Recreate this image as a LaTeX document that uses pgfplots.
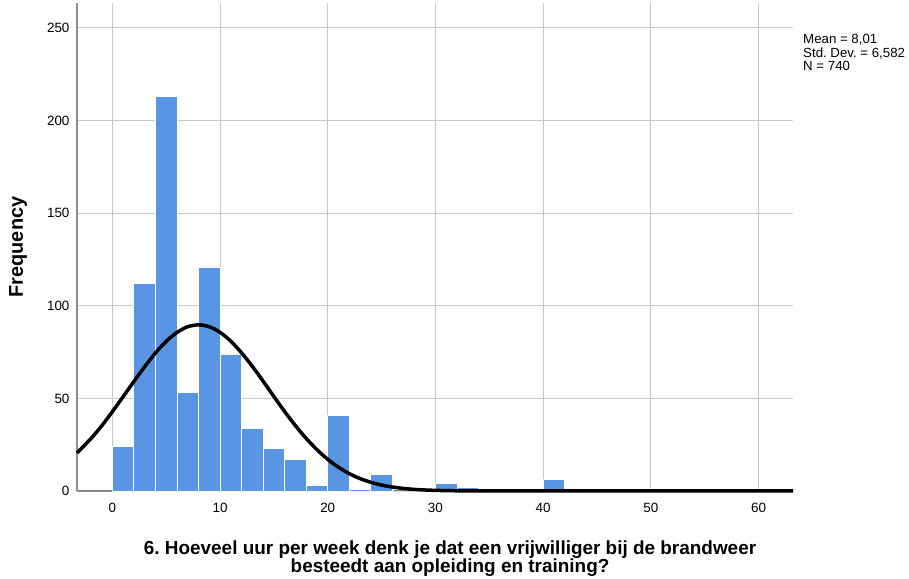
\documentclass[border=0pt]{standalone}
\usepackage{pgfplots}
\pgfplotsset{compat=1.18}
\usepackage{fontspec}
\setmainfont{Liberation Sans}
\frenchspacing
\definecolor{barblue}{RGB}{88,150,228}
\definecolor{gridgray}{RGB}{200,200,200}
\definecolor{axgray}{RGB}{140,140,140}
\begin{document}
\begin{tikzpicture}[x=1bp,y=1bp]
\path[use as bounding box] (-77,-88) rectangle (832,491);
\begin{axis}[
    at={(0,0)}, anchor=south west,
    scale only axis,
    width=716bp, height=488bp,
    xmin=-3.28, xmax=63.2,
    ymin=0, ymax=263.5,
    axis x line=bottom, axis y line=left,
    axis line style={-, draw=axgray, line width=1.2bp},
    xtick={0,10,...,60},
    ytick={0,50,...,250},
    major tick length=0pt,
    grid=major,
    major grid style={draw=gridgray, line width=1bp},
    tick label style={font=\fontsize{13.5}{16}\selectfont},
    /pgf/number format/assume math mode=true,
    xticklabel style={yshift=-9bp},
    yticklabel style={xshift=-4bp},
    xlabel={6. Hoeveel uur per week denk je dat een vrijwilliger bij de brandweer\\besteedt aan opleiding en training?},
    xlabel style={font=\fontsize{19}{18.5}\selectfont\bfseries, align=center,
        at={(rel axis cs:0.521,0)}, anchor=north, yshift=-46bp},
    ylabel={Frequency},
    ylabel style={font=\fontsize{20}{22}\selectfont\bfseries,
        at={(axis description cs:-0.0824,0.5)}, anchor=center},
    clip=false,
]
\addplot[ybar interval, fill=barblue, draw=white, line width=0.8bp] coordinates {
    (0,24) (2,112) (4,213) (6,53) (8,121) (10,74) (12,34) (14,23)
    (16,17) (18,3) (20,41) (22,1) (24,9) (26,0) (28,0) (30,4)
    (32,2) (34,0) (36,0) (38,0) (40,6) (42,6)
};
\addplot[black, line width=3.5bp, smooth] coordinates {
    (-3.28,20.6) (-2,28.2) (-1,35.1) (0,42.8) (1,50.9) (2,59.1) (3,67.1)
    (4,74.5) (5,80.8) (6,85.6) (7,88.7) (8,89.7) (9,88.7) (10,85.7)
    (11,80.9) (12,74.6) (13,67.3) (14,59.3) (15,51.0) (16,42.9) (17,35.3)
    (18,28.4) (19,22.3) (20,17.1) (21,12.8) (22,9.37) (23,6.71) (24,4.69)
    (25,3.21) (26,2.14) (27,1.40) (28,0.89) (29,0.56) (30,0.34) (31,0.2)
    (32,0.12) (33,0.07) (34,0.04) (35,0.02) (37,0.01) (40,0) (45,0)
    (50,0) (55,0) (60,0) (63.2,0)
};
\node[anchor=north west, align=left, inner sep=0pt,
      font=\fontsize{13.3}{13.6}\selectfont]
    at (rel axis cs:1.014,0.936) {Mean = 8,01\\Std. Dev. = 6,582\\N = 740};
\end{axis}
\end{tikzpicture}
\end{document}
